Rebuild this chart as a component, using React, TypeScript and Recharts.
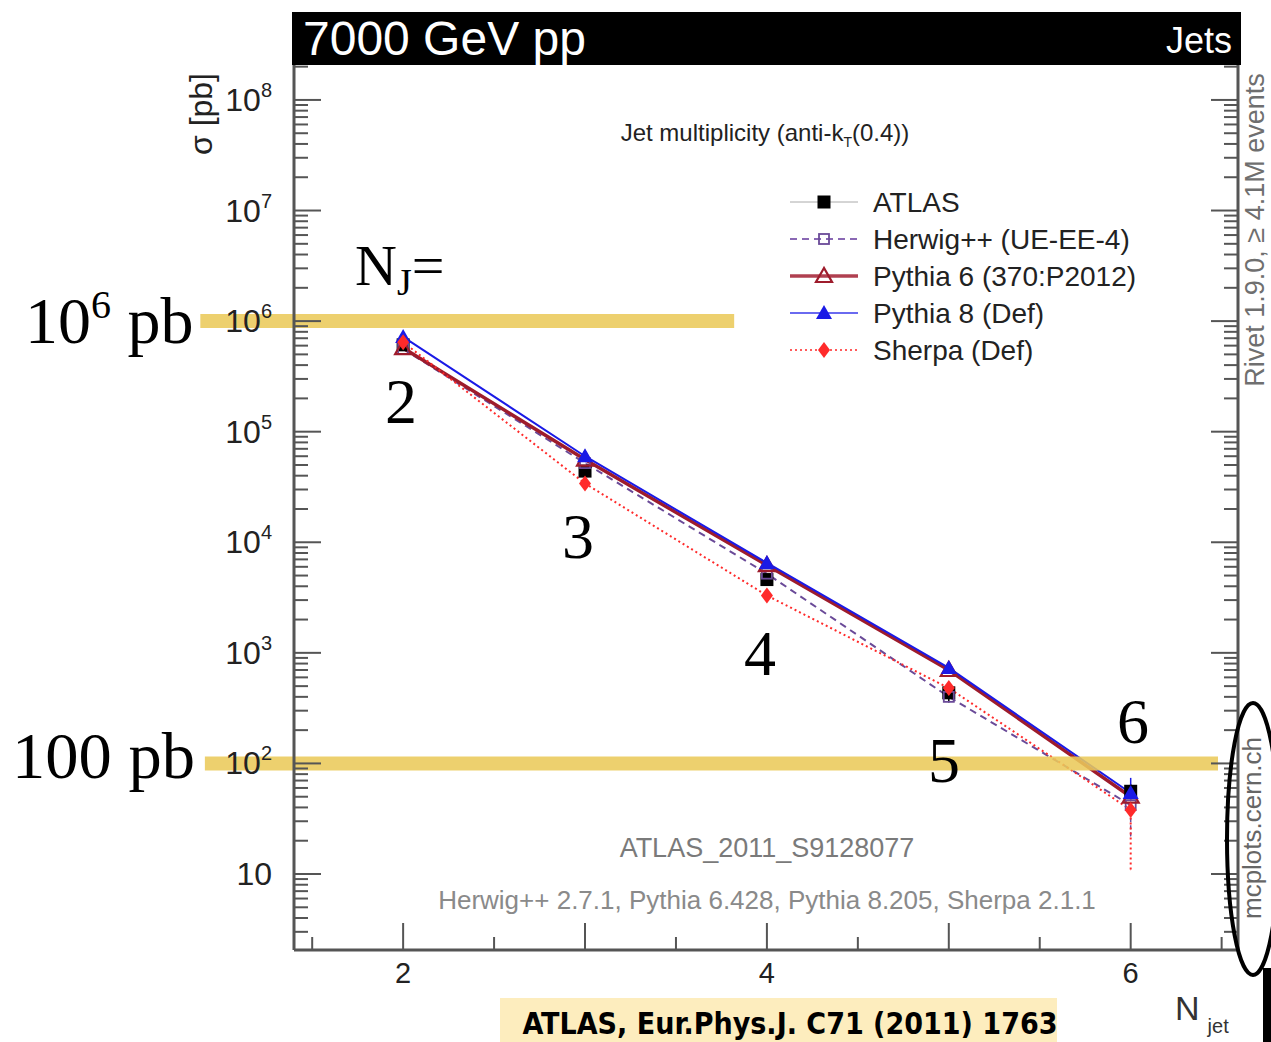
import { ComposedChart, Line, XAxis, YAxis, ErrorBar, ReferenceLine } from 'recharts';

const W = 1271;
const H = 1042;

// jet multiplicity bins
const nJet = [2, 3, 4, 5, 6];

// cross sections in pb
const atlas = [6.1e5, 4.4e4, 4.6e3, 4.35e2, 56];
const atlasErr = [[5e4, 5e4], [4e3, 4e3], [5e2, 5e2], [80, 80], [9, 9]];
const herwig = [5.6e5, 5.2e4, 5.2e3, 4.0e2, 42];
const herwigErr = [[0, 0], [0, 0], [0, 0], [0, 0], [20, 6]];
const pythia6 = [5.7e5, 5.6e4, 6.2e3, 7.0e2, 50];
const pythia8 = [7.2e5, 6.0e4, 6.5e3, 7.3e2, 54];
const pythia8Err = [[0, 0], [0, 0], [0, 0], [0, 0], [6, 20]];
const sherpa = [6.45e5, 3.4e4, 3.3e3, 4.8e2, 38];
const sherpaErr = [[0, 0], [0, 0], [0, 0], [0, 0], [27, 8]];

// axes
const xDomain: [number, number] = [1.4, 6.59];
const xTicks = [1.5, 2, 2.5, 3, 3.5, 4, 4.5, 5, 5.5, 6, 6.5];
const xTickLabels = [2, 4, 6];
const yDomain: [number, number] = [2.055, 2.07e8];
const yDecades = [1, 10, 1e2, 1e3, 1e4, 1e5, 1e6, 1e7, 1e8];
const yLabelExponents = [1, 2, 3, 4, 5, 6, 7, 8];

const yTicks: number[] = [];
yDecades.forEach((d) => {
  for (let m = 1; m <= 9; m++) {
    const v = m * d;
    if (v >= yDomain[0] && v <= yDomain[1]) yTicks.push(v);
  }
});

const rows = nJet.map((n, i) => ({
  n,
  atlas: atlas[i],
  atlasErr: atlasErr[i],
  herwig: herwig[i],
  herwigErr: herwigErr[i],
  pythia6: pythia6[i],
  pythia8: pythia8[i],
  pythia8Err: pythia8Err[i],
  sherpa: sherpa[i],
  sherpaErr: sherpaErr[i],
}));

const FRAME = '#555';
const SANS = '"Liberation Sans", Arial, Helvetica, sans-serif';
const SERIF = '"Liberation Serif", "Times New Roman", serif';

type MarkerKind = 'square' | 'openSquare' | 'openTriangle' | 'triangle' | 'diamond';

const series: {
  key: string;
  name: string;
  color: string;
  legendLine: string;
  width: number;
  dash?: string;
  marker: MarkerKind;
}[] = [
  { key: 'atlas', name: 'ATLAS', color: '#000', legendLine: '#aaa', width: 1, marker: 'square' },
  { key: 'herwig', name: 'Herwig++ (UE-EE-4)', color: '#6a4a98', legendLine: '#8a68b4', width: 2, dash: '7 5', marker: 'openSquare' },
  { key: 'pythia6', name: 'Pythia 6 (370:P2012)', color: '#9e1c2c', legendLine: '#b04050', width: 3.5, marker: 'openTriangle' },
  { key: 'pythia8', name: 'Pythia 8 (Def)', color: '#1a1ae6', legendLine: '#6a6af0', width: 2, marker: 'triangle' },
  { key: 'sherpa', name: 'Sherpa (Def)', color: '#ff2a2a', legendLine: '#ff5a5a', width: 2, dash: '2 3', marker: 'diamond' },
];

function Marker({ kind, cx, cy, color }: { kind: MarkerKind; cx: number; cy: number; color: string }) {
  if (cx == null || cy == null) return null;
  switch (kind) {
    case 'square':
      return <rect x={cx - 6.5} y={cy - 6.5} width={13} height={13} fill="#000" />;
    case 'openSquare':
      return <rect x={cx - 5} y={cy - 5} width={10} height={10} fill="none" stroke={color} strokeWidth={1.8} />;
    case 'openTriangle':
      return (
        <polygon
          points={`${cx},${cy - 8} ${cx - 8},${cy + 6} ${cx + 8},${cy + 6}`}
          fill="none"
          stroke={color}
          strokeWidth={2.2}
        />
      );
    case 'triangle':
      return <polygon points={`${cx},${cy - 8} ${cx - 8},${cy + 6} ${cx + 8},${cy + 6}`} fill={color} />;
    case 'diamond':
      return <polygon points={`${cx},${cy - 8} ${cx + 6},${cy} ${cx},${cy + 8} ${cx - 6},${cy}`} fill={color} />;
  }
  return null;
}

const isMajor = (v: number) => Math.abs(Math.log10(v) - Math.round(Math.log10(v))) < 1e-9;

function BottomTick({ x, y, payload }: any) {
  const v = payload.value;
  const len = Number.isInteger(v) ? 27 : 13;
  return (
    <g>
      <line x1={x} y1={y} x2={x} y2={y - len} stroke={FRAME} strokeWidth={2} />
      {xTickLabels.includes(v) && (
        <text x={x} y={y + 33} textAnchor="middle" fontSize={29} fontFamily={SANS} fill="#222">
          {v}
        </text>
      )}
    </g>
  );
}

function TopTick({ x, y, payload }: any) {
  const len = Number.isInteger(payload.value) ? 27 : 13;
  return <line x1={x} y1={y} x2={x} y2={y + len} stroke={FRAME} strokeWidth={2} />;
}

function LeftTick({ x, y, payload }: any) {
  const v = payload.value;
  const major = isMajor(v);
  const exp = Math.round(Math.log10(v));
  return (
    <g>
      <line x1={x} y1={y} x2={x + (major ? 27 : 14)} y2={y} stroke={FRAME} strokeWidth={2} />
      {major && yLabelExponents.includes(exp) && (
        <text x={x - 22} y={y + 11} textAnchor="end" fontSize={32} fontFamily={SANS} fill="#222">
          <tspan>10</tspan>
          {exp > 1 && (
            <tspan dy={-14} fontSize={20}>
              {exp}
            </tspan>
          )}
        </text>
      )}
    </g>
  );
}

function RightTick({ x, y, payload }: any) {
  const major = isMajor(payload.value);
  return <line x1={x} y1={y} x2={x - (major ? 27 : 14)} y2={y} stroke={FRAME} strokeWidth={2} />;
}

export default function App() {
  return (
    <div style={{ position: 'absolute', left: 0, top: 0, width: W, height: H, background: '#fff', overflow: 'hidden' }}>
      <ComposedChart width={W} height={H} data={rows} margin={{ top: 65, right: 0, bottom: 0, left: 0 }}>
        <XAxis
          xAxisId="b"
          dataKey="n"
          type="number"
          domain={xDomain}
          allowDataOverflow
          ticks={xTicks}
          interval={0}
          height={92}
          tickSize={0}
          tickMargin={0}
          tickLine={false}
          axisLine={{ stroke: FRAME, strokeWidth: 3 }}
          tick={BottomTick}
        />
        <XAxis
          xAxisId="t"
          orientation="top"
          dataKey="n"
          type="number"
          domain={xDomain}
          allowDataOverflow
          ticks={xTicks}
          interval={0}
          height={0}
          tickSize={0}
          tickMargin={0}
          tickLine={false}
          axisLine={{ stroke: FRAME, strokeWidth: 3 }}
          tick={TopTick}
        />
        <YAxis
          yAxisId="l"
          scale="log"
          domain={yDomain}
          allowDataOverflow
          ticks={yTicks}
          interval={0}
          width={294}
          tickSize={0}
          tickMargin={0}
          tickLine={false}
          axisLine={{ stroke: FRAME, strokeWidth: 3 }}
          tick={LeftTick}
        />
        <YAxis
          yAxisId="r"
          orientation="right"
          scale="log"
          domain={yDomain}
          allowDataOverflow
          ticks={yTicks}
          interval={0}
          width={33}
          tickSize={0}
          tickMargin={0}
          tickLine={false}
          axisLine={{ stroke: FRAME, strokeWidth: 3 }}
          tick={RightTick}
        />

        {series.map((s) => (
          <Line
            key={s.key}
            xAxisId="b"
            yAxisId="l"
            dataKey={s.key}
            name={s.name}
            type="linear"
            stroke={s.key === 'atlas' ? 'none' : s.color}
            strokeWidth={s.width}
            strokeDasharray={s.dash}
            dot={(p: any) => <Marker key={`${s.key}-${p.index}`} kind={s.marker} cx={p.cx} cy={p.cy} color={s.color} />}
            activeDot={false}
            isAnimationActive={false}
          >
            {s.key === 'atlas' && <ErrorBar dataKey="atlasErr" direction="y" width={0} stroke="#000" strokeWidth={1.5} />}
            {s.key === 'herwig' && <ErrorBar dataKey="herwigErr" direction="y" width={0} stroke={s.color} strokeWidth={1.5} strokeDasharray="4 3" />}
            {s.key === 'pythia8' && <ErrorBar dataKey="pythia8Err" direction="y" width={0} stroke={s.color} strokeWidth={1.5} />}
            {s.key === 'sherpa' && <ErrorBar dataKey="sherpaErr" direction="y" width={0} stroke={s.color} strokeWidth={2} strokeDasharray="2 3" />}
          </Line>
        ))}

        <ReferenceLine
          xAxisId="b"
          yAxisId="l"
          segment={[{ x: 0.885, y: 1e6 }, { x: 3.82, y: 1e6 }]}
          ifOverflow="visible"
          stroke="#ebc95a"
          strokeOpacity={0.88}
          strokeWidth={14}
        />
        <ReferenceLine
          xAxisId="b"
          yAxisId="l"
          segment={[{ x: 0.91, y: 100 }, { x: 6.48, y: 100 }]}
          ifOverflow="visible"
          stroke="#ebc95a"
          strokeOpacity={0.88}
          strokeWidth={14}
        />
      </ComposedChart>

      <svg width={W} height={H} style={{ position: 'absolute', left: 0, top: 0, pointerEvents: 'none' }}>
        {/* banner */}
        <rect x={292} y={12} width={949} height={53} fill="#000" />
        <text x={303} y={55} fontSize={48} fontFamily={SANS} fill="#fff">
          7000 GeV pp
        </text>
        <text x={1232} y={53} fontSize={36} fontFamily={SANS} fill="#fff" textAnchor="end">
          Jets
        </text>

        {/* axis titles */}
        <text
          transform="translate(212,114) rotate(-90)"
          textAnchor="middle"
          fontSize={32}
          fontFamily={SANS}
          fill="#222"
        >
          σ [pb]
        </text>
        <text x={1175} y={1020} fontSize={34} fontFamily={SANS} fill="#333">
          N
          <tspan dx={8} dy={13} fontSize={20}>
            jet
          </tspan>
        </text>

        {/* in-plot texts */}
        <text x={765} y={141} textAnchor="middle" fontSize={24} fontFamily={SANS} fill="#222">
          Jet multiplicity (anti-k
          <tspan dy={6} fontSize={14}>
            T
          </tspan>
          <tspan dy={-6}>(0.4))</tspan>
        </text>
        <text x={767} y={857} textAnchor="middle" fontSize={27} fontFamily={SANS} fill="#7a7a7a">
          ATLAS_2011_S9128077
        </text>
        <text x={767} y={909} textAnchor="middle" fontSize={26} fontFamily={SANS} fill="#8a8a8a">
          Herwig++ 2.7.1, Pythia 6.428, Pythia 8.205, Sherpa 2.1.1
        </text>

        {/* legend */}
        {series.map((s, i) => {
          const y = 202 + i * 37;
          return (
            <g key={s.key}>
              <line
                x1={790}
                y1={y}
                x2={858}
                y2={y}
                stroke={s.legendLine}
                strokeWidth={s.key === 'atlas' ? 1 : s.width}
                strokeDasharray={s.dash}
              />
              <Marker kind={s.marker} cx={824} cy={y} color={s.color} />
              <text x={873} y={y + 10} fontSize={28} fontFamily={SANS} fill="#222">
                {s.name}
              </text>
            </g>
          );
        })}

        {/* right margin texts */}
        <text
          transform="translate(1264,230) rotate(-90)"
          textAnchor="middle"
          fontSize={27}
          fontFamily={SANS}
          fill="#6f6f6f"
        >
          Rivet 1.9.0, ≥ 4.1M events
        </text>
        <text
          transform="translate(1261,828) rotate(-90)"
          textAnchor="middle"
          fontSize={26}
          fontFamily={SANS}
          fill="#666"
        >
          mcplots.cern.ch
        </text>
        <ellipse cx={1253} cy={839} rx={26} ry={136} fill="none" stroke="#000" strokeWidth={4} />
        <rect x={1263} y={968} width={8} height={74} fill="#000" />

        {/* annotations */}
        <text x={25} y={343} fontSize={66} fontFamily={SERIF} fill="#000">
          10
          <tspan dy={-25} fontSize={40}>
            6
          </tspan>
          <tspan dy={25}> pb</tspan>
        </text>
        <text x={12} y={778} fontSize={66} fontFamily={SERIF} fill="#000" textLength={183} lengthAdjust="spacingAndGlyphs">
          100 pb
        </text>
        <text x={355} y={285} fontSize={58} fontFamily={SERIF} fill="#000">
          N
          <tspan dy={10} fontSize={38}>
            J
          </tspan>
          <tspan dy={-10}>=</tspan>
        </text>
        <text x={401} y={423} textAnchor="middle" fontSize={64} fontFamily={SERIF}>2</text>
        <text x={578} y={558} textAnchor="middle" fontSize={64} fontFamily={SERIF}>3</text>
        <text x={760} y={675} textAnchor="middle" fontSize={64} fontFamily={SERIF}>4</text>
        <text x={944} y={782} textAnchor="middle" fontSize={64} fontFamily={SERIF}>5</text>
        <text x={1133} y={743} textAnchor="middle" fontSize={64} fontFamily={SERIF}>6</text>

        {/* reference box */}
        <rect x={500} y={998} width={557} height={44} fill="#fdedbe" />
        <text
          x={790}
          y={1034}
          textAnchor="middle"
          fontSize={30}
          fontWeight="bold"
          fontFamily='"Liberation Sans Narrow", "DejaVu Sans Condensed", sans-serif'
          fill="#000"
          textLength={535}
          lengthAdjust="spacingAndGlyphs"
        >
          ATLAS, Eur.Phys.J. C71 (2011) 1763
        </text>
      </svg>
    </div>
  );
}
